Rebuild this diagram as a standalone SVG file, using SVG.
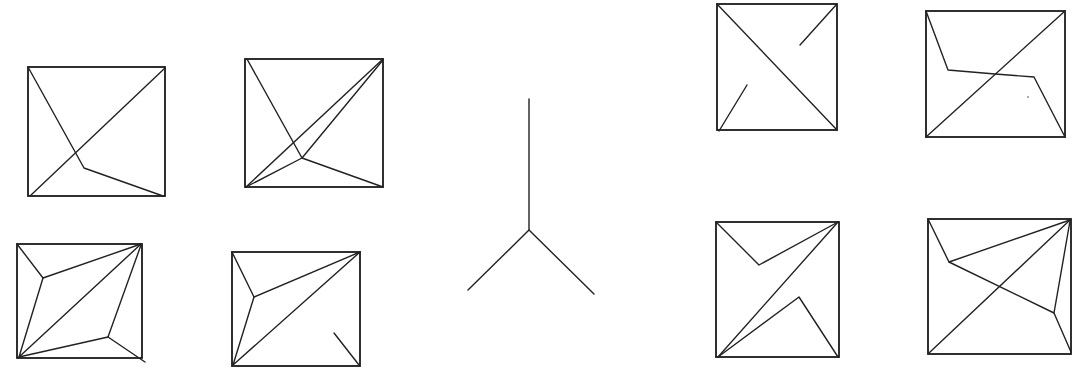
<svg xmlns="http://www.w3.org/2000/svg" width="1074" height="369" viewBox="0 0 1074 369">
<style>
.box{fill:none;stroke:#1a1a1a;stroke-width:1.8}
.ln{fill:none;stroke:#222;stroke-width:1.4;stroke-linecap:round;stroke-linejoin:round}
</style>
<rect width="1074" height="369" fill="#fff"/>
<g id="fig1">
<rect class="box" x="28" y="67" width="137" height="129"/>
<polyline class="ln" points="28,67 84,168 163,196"/>
<line class="ln" x1="30" y1="196" x2="165" y2="68"/>
</g>
<g id="fig2">
<rect class="box" x="245" y="59" width="138" height="128"/>
<polyline class="ln" points="247,59 302,158 383,187"/>
<polyline class="ln" points="246,187 302,158 383,60"/>
<line class="ln" x1="246" y1="187" x2="383" y2="59"/>
</g>
<g id="fig3">
<rect class="box" x="17" y="244" width="125" height="114"/>
<polyline class="ln" points="17,244 43,278 141,244"/>
<polyline class="ln" points="43,278 19,357 141,244"/>
<polyline class="ln" points="19,357 108,337 141,245"/>
<line class="ln" x1="108" y1="337" x2="145" y2="362"/>
</g>
<g id="fig4">
<rect class="box" x="232" y="252" width="128" height="114"/>
<polyline class="ln" points="232,252 254,297 360,252"/>
<polyline class="ln" points="254,297 233,365 360,252"/>
<line class="ln" x1="334" y1="333" x2="359" y2="365"/>
</g>
<g id="fig5">
<polyline class="ln" points="529,99 529,230 468,290"/>
<line class="ln" x1="529" y1="230" x2="594" y2="294"/>
</g>
<g id="fig6">
<rect class="box" x="717" y="4" width="120" height="126"/>
<line class="ln" x1="717" y1="4" x2="837" y2="130"/>
<line class="ln" x1="800" y1="45" x2="836" y2="5"/>
<line class="ln" x1="719" y1="131" x2="747" y2="85"/>
</g>
<g id="fig7">
<rect class="box" x="926" y="11" width="139" height="126"/>
<polyline class="ln" points="926,11 948,70 995,74 1034,77 1065,137"/>
<line class="ln" x1="926" y1="137" x2="1065" y2="11"/>
<circle cx="1028" cy="97" r="0.8" fill="#444"/>
</g>
<g id="fig8">
<rect class="box" x="716" y="222" width="123" height="135"/>
<polyline class="ln" points="716,222 759,265 838,222"/>
<line class="ln" x1="718" y1="357" x2="838" y2="222"/>
<polyline class="ln" points="718,357 799,297 838,357"/>
</g>
<g id="fig9">
<rect class="box" x="928" y="219" width="143" height="135"/>
<polyline class="ln" points="928,219 949,262 1070,220"/>
<polyline class="ln" points="949,262 1054,313 1070,221"/>
<line class="ln" x1="1054" y1="313" x2="1071" y2="352"/>
<line class="ln" x1="929" y1="353" x2="1070" y2="220"/>
</g>
</svg>
